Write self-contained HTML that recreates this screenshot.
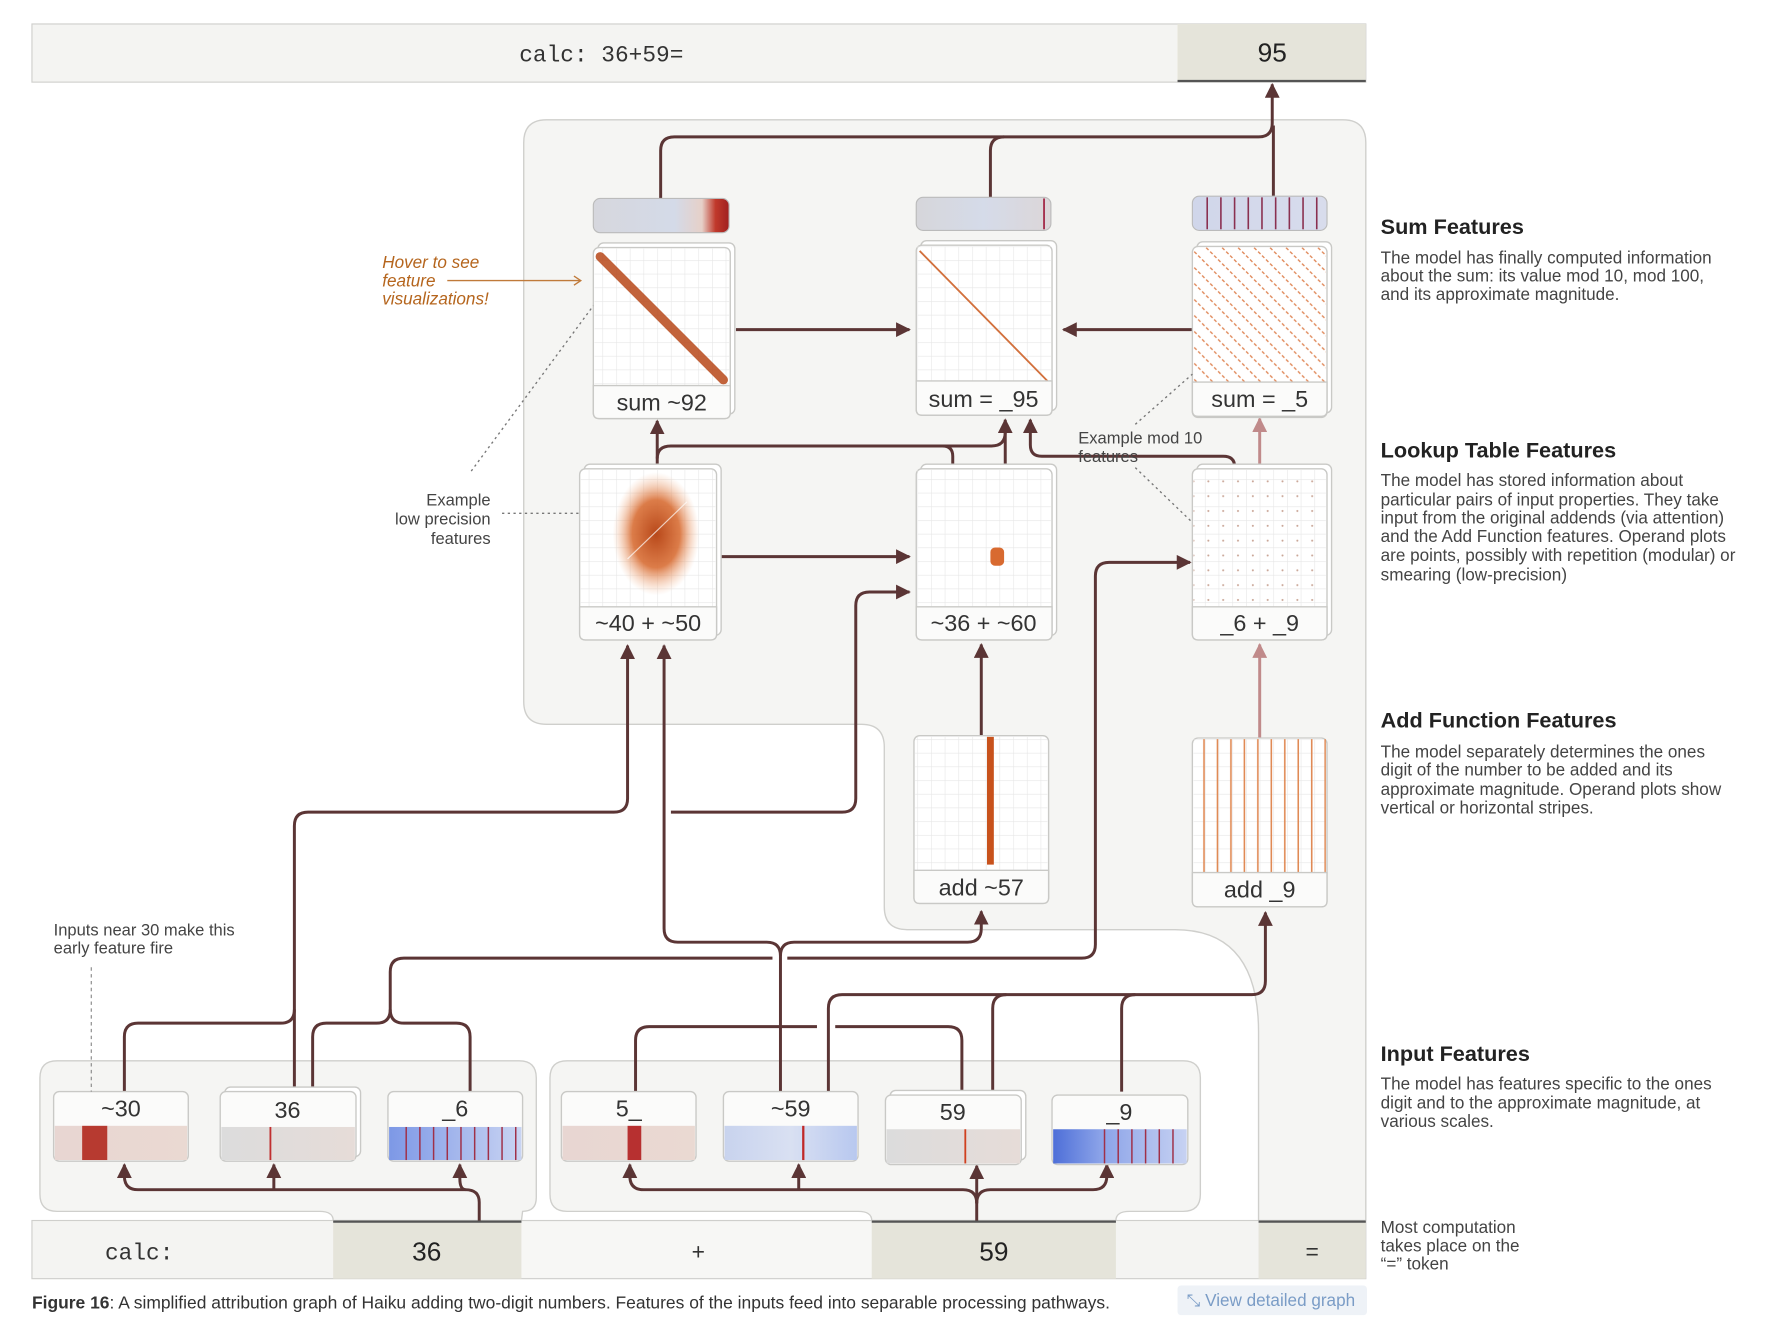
<!DOCTYPE html>
<html><head><meta charset="utf-8"><style>
html,body{margin:0;padding:0;background:#fff;}
svg{display:block;}
text{font-family:"Liberation Sans",sans-serif;}
.mono{font-family:"Liberation Mono",monospace;}
.e{fill:none;stroke:#5b3535;stroke-width:2.6;}
.ep{fill:none;stroke:#c08a8a;stroke-width:2.6;}
.card{fill:#fff;stroke:#c9c9c6;stroke-width:1.2;}
.lbl{fill:#fbfbfa;stroke:#c9c9c6;stroke-width:1.2;}
.t{font-size:20.5px;fill:#333;text-anchor:middle;}
.h{font-size:19px;font-weight:bold;fill:#222;}
.b{font-size:15px;fill:#444;}
.ann{font-size:14.5px;fill:#444;}
.dot{fill:none;stroke:#777;stroke-width:1.2;stroke-dasharray:2 3;}
</style></head><body>
<svg width="1780" height="1330" viewBox="0 0 1560 1166" preserveAspectRatio="none" xmlns="http://www.w3.org/2000/svg">
<defs>
<marker id="a" viewBox="0 0 10 10" refX="9" refY="5" markerWidth="5" markerHeight="5" orient="auto"><path d="M0 0L10 5L0 10z" fill="#5b3535"/></marker>
<marker id="ap" viewBox="0 0 10 10" refX="9" refY="5" markerWidth="5" markerHeight="5" orient="auto"><path d="M0 0L10 5L0 10z" fill="#c08a8a"/></marker>
<pattern id="g" width="12" height="12" patternUnits="userSpaceOnUse"><path d="M12 0H0V12" fill="none" stroke="#e6e6e6" stroke-width="1"/></pattern>
<pattern id="diag" width="14" height="14" patternUnits="userSpaceOnUse"><path d="M0 0L14 14M-7 7L7 21M7 -7L21 7" stroke="#e0895a" stroke-width="1.2" stroke-dasharray="3 2"/></pattern>
<pattern id="vs" width="11.8" height="10" patternUnits="userSpaceOnUse"><path d="M5 0V10" stroke="#e08a55" stroke-width="1.4"/></pattern>
<pattern id="dots" width="13" height="13" patternUnits="userSpaceOnUse"><circle cx="6" cy="6" r="0.9" fill="#c9a596"/></pattern>
<radialGradient id="blob" cx="0.5" cy="0.5" r="0.5"><stop offset="0" stop-color="#b8481a"/><stop offset="0.55" stop-color="#d86e35" stop-opacity="0.9"/><stop offset="1" stop-color="#f4b890" stop-opacity="0"/></radialGradient>
<linearGradient id="bar1" x1="0" x2="1"><stop offset="0" stop-color="#d6d7dd"/><stop offset="0.6" stop-color="#d4dae8"/><stop offset="0.8" stop-color="#e6d0c8"/><stop offset="0.9" stop-color="#c0392b"/><stop offset="1" stop-color="#a02020"/></linearGradient>
<linearGradient id="bar2" x1="0" x2="1"><stop offset="0" stop-color="#d6d6da"/><stop offset="0.5" stop-color="#d5dbe9"/><stop offset="1" stop-color="#dcd6d8"/></linearGradient>
<linearGradient id="bar3" x1="0" x2="1"><stop offset="0" stop-color="#d0d6ea"/><stop offset="1" stop-color="#d8dcec"/></linearGradient>
<linearGradient id="in1" x1="0" x2="1"><stop offset="0" stop-color="#e8d6d2"/><stop offset="1" stop-color="#ead9d2"/></linearGradient>
<linearGradient id="in2" x1="0" x2="1"><stop offset="0" stop-color="#dcdcdc"/><stop offset="1" stop-color="#e6dcd8"/></linearGradient>
<linearGradient id="in3" x1="0" x2="1"><stop offset="0" stop-color="#7d98e6"/><stop offset="1" stop-color="#c9d4f2"/></linearGradient>
<linearGradient id="in4" x1="0" x2="1"><stop offset="0" stop-color="#c8d3ee"/><stop offset="0.5" stop-color="#d9e0f2"/><stop offset="1" stop-color="#b8c8ef"/></linearGradient>
<linearGradient id="in5" x1="0" x2="1"><stop offset="0" stop-color="#4e6fd8"/><stop offset="0.35" stop-color="#8aa2e8"/><stop offset="1" stop-color="#c7d2f2"/></linearGradient>
</defs>

<rect x="28" y="21" width="1169" height="51" fill="#f4f4f2" stroke="#cfcfcc"/>
<rect x="1032" y="21" width="165" height="51" fill="#e5e4da"/>
<line x1="1032" y1="71" x2="1197" y2="71" stroke="#555" stroke-width="2"/>
<text x="527" y="54" class="mono" font-size="20" fill="#333" text-anchor="middle">calc: 36+59=</text>
<text x="1115" y="54" font-size="23" fill="#222" text-anchor="middle">95</text>

<path d="M479 105H1177Q1197 105 1197 125V1070H1103V905Q1103 815 1030 815H795Q775 815 775 795V655Q775 635 755 635H479Q459 635 459 615V125Q459 105 479 105Z" fill="#f5f5f3" stroke="#cfcfcc" stroke-width="1.2"/>

<path d="M50 930H455Q470 930 470 945V1050Q470 1062 458 1062Q457 1070 457 1070H292Q292 1062 280 1062H50Q35 1062 35 1047V945Q35 930 50 930Z" fill="#f5f5f3" stroke="#cfcfcc" stroke-width="1.2"/>
<path d="M497 930H1037Q1052 930 1052 945V1047Q1052 1062 1037 1062H990Q978 1062 978 1070H764Q764 1062 752 1062H497Q482 1062 482 1047V945Q482 930 497 930Z" fill="#f5f5f3" stroke="#cfcfcc" stroke-width="1.2"/>

<rect x="28" y="1070" width="1169" height="51" fill="#f4f4f2" stroke="#cfcfcc"/>
<rect x="292" y="1070" width="165" height="51" fill="#e5e4da"/>
<rect x="457" y="1071" width="307" height="49" fill="#f7f7f5"/>
<rect x="764" y="1070" width="214" height="51" fill="#e5e4da"/>
<rect x="1103" y="1070" width="94" height="51" fill="#e5e4da"/>
<line x1="292" y1="1071" x2="457" y2="1071" stroke="#555" stroke-width="2"/>
<line x1="764" y1="1071" x2="978" y2="1071" stroke="#555" stroke-width="2"/>
<line x1="1103" y1="1071" x2="1197" y2="1071" stroke="#555" stroke-width="2"/>
<text x="122" y="1104" class="mono" font-size="20" fill="#333" text-anchor="middle">calc:</text>
<text x="374" y="1105" font-size="23" fill="#222" text-anchor="middle">36</text>
<text x="612" y="1104" font-size="20" fill="#333" text-anchor="middle">+</text>
<text x="871" y="1105" font-size="23" fill="#222" text-anchor="middle">59</text>
<text x="1150" y="1104" font-size="20" fill="#333" text-anchor="middle">=</text>

<path class="e" d="M579 174V132Q579 120 591 120H1103Q1115 120 1115 108V74" marker-end="url(#a)"/>
<path class="e" d="M868 173V132Q868 120 880 120"/>
<path class="e" d="M1116 172V110"/>
<path class="e" d="M645 289H797" marker-end="url(#a)"/>
<path class="e" d="M1045 289H932" marker-end="url(#a)"/>
<path class="e" d="M576 410V369" marker-end="url(#a)"/>
<path class="e" d="M576 402Q576 391 588 391H869Q881 391 881 379"/>
<path class="e" d="M835 410V400Q835 391 826 391"/>
<path class="e" d="M881 410V368" marker-end="url(#a)"/>
<path class="e" d="M1082 410V409Q1082 400 1072 400H913Q903 400 903 390V368" marker-end="url(#a)"/>
<path class="ep" d="M1104 410V367" marker-end="url(#ap)"/>
<path class="e" d="M632 488H797" marker-end="url(#a)"/>
<path class="e" d="M258 957V724Q258 712 270 712H538Q550 712 550 700V566" marker-end="url(#a)"/>
<path class="e" d="M588 712H738Q750 712 750 700V531Q750 519 762 519H797" marker-end="url(#a)"/>
<path class="e" d="M684 957V838Q684 826 672 826H594Q582 826 582 814V566" marker-end="url(#a)"/>
<path class="e" d="M684 838Q684 826 696 826H848Q860 826 860 814V799" marker-end="url(#a)"/>
<path class="e" d="M860 645V565" marker-end="url(#a)"/>
<path class="e" d="M109 957V909Q109 897 121 897H246Q258 897 258 885"/>
<path class="e" d="M274 957V909Q274 897 286 897H330Q342 897 342 885V852Q342 840 354 840H677"/>
<path class="e" d="M412 957V909Q412 897 400 897H354Q342 897 342 885"/>
<path class="e" d="M690 840H948Q960 840 960 828V505Q960 493 972 493H1043" marker-end="url(#a)"/>
<path class="e" d="M557 957V912Q557 900 569 900H716"/>
<path class="e" d="M732 900H831Q843 900 843 912V957"/>
<path class="e" d="M726 957V884Q726 872 738 872H1097Q1109 872 1109 860V800" marker-end="url(#a)"/>
<path class="e" d="M870 957V884Q870 872 882 872"/>
<path class="e" d="M983 957V884Q983 872 995 872"/>
<path class="ep" d="M1104 647V565" marker-end="url(#ap)"/>
<path class="e" d="M420 1070V1054Q420 1043 408 1043H121Q109 1043 109 1031V1021" marker-end="url(#a)"/>
<path class="e" d="M240 1043Q240 1037 240 1021" marker-end="url(#a)"/>
<path class="e" d="M408 1043Q403 1043 403 1033V1021" marker-end="url(#a)"/>
<path class="e" d="M856 1070V1022" marker-end="url(#a)"/>
<path class="e" d="M856 1055Q856 1043 844 1043H564Q552 1043 552 1031V1021" marker-end="url(#a)"/>
<path class="e" d="M700 1043V1021" marker-end="url(#a)"/>
<path class="e" d="M856 1055Q856 1043 868 1043H958Q970 1043 970 1031V1021" marker-end="url(#a)"/>

<rect x="520" y="174" width="119" height="30" rx="6" fill="url(#bar1)" stroke="#bbb"/>
<rect x="803" y="173" width="118" height="29" rx="6" fill="url(#bar2)" stroke="#bbb"/>
<line x1="915" y1="174" x2="915" y2="201" stroke="#a02040" stroke-width="1.5"/>
<rect x="1045" y="172" width="118" height="30" rx="6" fill="url(#bar3)" stroke="#bbb"/>
<g stroke="#8a3050" stroke-width="1.4">
<line x1="1058" y1="173" x2="1058" y2="201"/><line x1="1070" y1="173" x2="1070" y2="201"/><line x1="1082" y1="173" x2="1082" y2="201"/><line x1="1094" y1="173" x2="1094" y2="201"/><line x1="1106" y1="173" x2="1106" y2="201"/><line x1="1118" y1="173" x2="1118" y2="201"/><line x1="1130" y1="173" x2="1130" y2="201"/><line x1="1142" y1="173" x2="1142" y2="201"/><line x1="1154" y1="173" x2="1154" y2="201"/></g>

<rect class="card" x="524" y="213" width="120" height="150" rx="5"/>
<rect class="card" x="520" y="217" width="120" height="150" rx="5"/>
<rect x="521" y="218" width="118" height="120" fill="url(#g)"/>
<path d="M526 225L634 333" stroke="#b8481a" stroke-width="8" stroke-linecap="round" opacity="0.85"/>
<path d="M520 338H640V362Q640 367 635 367H525Q520 367 520 362Z" class="lbl"/>
<text x="580" y="360" class="t">sum ~92</text>

<rect class="card" x="807" y="211" width="119" height="149" rx="5"/>
<rect class="card" x="803" y="215" width="119" height="149" rx="5"/>
<rect x="804" y="216" width="117" height="118" fill="url(#g)"/>
<path d="M806 220L918 334" stroke="#d2703c" stroke-width="1.6"/>
<path d="M803 334H922V359Q922 364 917 364H808Q803 364 803 359Z" class="lbl"/>
<text x="862" y="357" class="t">sum = _95</text>

<rect class="card" x="1049" y="212" width="118" height="150" rx="5"/>
<rect class="card" x="1045" y="216" width="118" height="150" rx="5"/>
<rect x="1046" y="217" width="116" height="118" fill="url(#diag)"/>
<path d="M1045 335H1163V360Q1163 365 1158 365H1050Q1045 365 1045 360Z" class="lbl"/>
<text x="1104" y="357" class="t">sum = _5</text>

<rect class="card" x="512" y="407" width="120" height="150" rx="5"/>
<rect class="card" x="508" y="411" width="120" height="150" rx="5"/>
<rect x="509" y="412" width="118" height="120" fill="url(#g)"/>
<ellipse cx="575" cy="468" rx="38" ry="54" fill="url(#blob)"/>
<line x1="550" y1="490" x2="602" y2="440" stroke="#fff" stroke-width="1" opacity="0.7"/>
<path d="M508 532H628V556Q628 561 623 561H513Q508 561 508 556Z" class="lbl"/>
<text x="568" y="553" class="t">~40 + ~50</text>

<rect class="card" x="807" y="407" width="119" height="150" rx="5"/>
<rect class="card" x="803" y="411" width="119" height="150" rx="5"/>
<rect x="804" y="412" width="117" height="120" fill="url(#g)"/>
<rect x="868" y="480" width="12" height="16" rx="4" fill="#d86a30"/>
<path d="M803 532H922V556Q922 561 917 561H808Q803 561 803 556Z" class="lbl"/>
<text x="862" y="553" class="t">~36 + ~60</text>

<rect class="card" x="1049" y="407" width="118" height="150" rx="5"/>
<rect class="card" x="1045" y="411" width="118" height="150" rx="5"/>
<rect x="1046" y="412" width="116" height="120" fill="url(#g)"/>
<rect x="1046" y="412" width="116" height="120" fill="url(#dots)"/>
<path d="M1045 532H1163V556Q1163 561 1158 561H1050Q1045 561 1045 556Z" class="lbl"/>
<text x="1104" y="553" class="t">_6 + _9</text>

<rect class="card" x="801" y="645" width="118" height="147" rx="5"/>
<rect x="802" y="646" width="116" height="117" fill="url(#g)"/>
<rect x="865" y="646" width="6" height="112" fill="#c8521c"/>
<path d="M801 763H919V787Q919 792 914 792H806Q801 792 801 787Z" class="lbl"/>
<text x="860" y="785" class="t">add ~57</text>

<rect class="card" x="1045" y="647" width="118" height="148" rx="5"/>
<rect x="1046" y="648" width="116" height="117" fill="url(#g)"/>
<rect x="1046" y="648" width="116" height="117" fill="url(#vs)"/>
<path d="M1045 765H1163V790Q1163 795 1158 795H1050Q1045 795 1045 790Z" class="lbl"/>
<text x="1104" y="787" class="t">add _9</text>

<g>
<rect class="lbl" x="47" y="957" width="118" height="61" rx="5"/>
<rect x="48" y="987" width="116" height="30" fill="url(#in1)"/>
<rect x="72" y="987" width="22" height="30" fill="#b73a30"/>
<text x="106" y="979" class="t">~30</text>

<rect class="card" x="197" y="953" width="119" height="61" rx="5"/>
<rect class="lbl" x="193" y="957" width="119" height="61" rx="5"/>
<rect x="194" y="988" width="117" height="29" fill="url(#in2)"/>
<line x1="237" y1="988" x2="237" y2="1017" stroke="#c03030" stroke-width="1.6"/>
<text x="252" y="980" class="t">36</text>

<rect class="lbl" x="340" y="957" width="118" height="61" rx="5"/>
<rect x="341" y="988" width="116" height="29" fill="url(#in3)"/>
<g stroke="#a03048" stroke-width="1.3"><line x1="356" y1="988" x2="356" y2="1017"/><line x1="368" y1="988" x2="368" y2="1017"/><line x1="380" y1="988" x2="380" y2="1017"/><line x1="392" y1="988" x2="392" y2="1017"/><line x1="404" y1="988" x2="404" y2="1017"/><line x1="416" y1="988" x2="416" y2="1017"/><line x1="428" y1="988" x2="428" y2="1017"/><line x1="440" y1="988" x2="440" y2="1017"/><line x1="452" y1="988" x2="452" y2="1017"/></g>
<text x="399" y="979" class="t">_6</text>

<rect class="lbl" x="492" y="957" width="118" height="61" rx="5"/>
<rect x="493" y="987" width="116" height="30" fill="url(#in1)"/>
<rect x="550" y="987" width="12" height="30" fill="#b73030"/>
<text x="551" y="979" class="t">5_</text>

<rect class="lbl" x="634" y="957" width="118" height="61" rx="5"/>
<rect x="635" y="987" width="116" height="30" fill="url(#in4)"/>
<line x1="704" y1="987" x2="704" y2="1017" stroke="#c02828" stroke-width="2"/>
<text x="693" y="979" class="t">~59</text>

<rect class="card" x="780" y="956" width="119" height="61" rx="5"/>
<rect class="lbl" x="776" y="960" width="119" height="61" rx="5"/>
<rect x="777" y="990" width="117" height="30" fill="url(#in2)"/>
<line x1="846" y1="990" x2="846" y2="1020" stroke="#d04020" stroke-width="1.6"/>
<text x="835" y="982" class="t">59</text>

<rect class="lbl" x="922" y="960" width="119" height="61" rx="5"/>
<rect x="923" y="990" width="117" height="30" fill="url(#in5)"/>
<g stroke="#a03048" stroke-width="1.3"><line x1="968" y1="990" x2="968" y2="1020"/><line x1="980" y1="990" x2="980" y2="1020"/><line x1="992" y1="990" x2="992" y2="1020"/><line x1="1004" y1="990" x2="1004" y2="1020"/><line x1="1016" y1="990" x2="1016" y2="1020"/><line x1="1028" y1="990" x2="1028" y2="1020"/></g>
<text x="981" y="982" class="t">_9</text>
</g>

<g font-style="italic" font-size="15" fill="#b5651d">
<text x="335" y="235">Hover to see</text>
<text x="335" y="251">feature</text>
<text x="335" y="267">visualizations!</text>
</g>
<path d="M392 246H508" stroke="#c07a3a" stroke-width="1.2" fill="none"/>
<path d="M503 242L509 246L503 250" stroke="#c07a3a" stroke-width="1.2" fill="none"/>
<path class="dot" d="M413 413L520 268"/>
<g class="ann" text-anchor="end"><text x="430" y="443">Example</text><text x="430" y="460">low precision</text><text x="430" y="477">features</text></g>
<path class="dot" d="M440 450H508"/>
<text x="945" y="389" class="ann">Example mod 10</text>
<text x="945" y="405" class="ann">features</text>
<path class="dot" d="M995 372L1045 328"/>
<path class="dot" d="M995 410L1045 458"/>
<text x="47" y="820" class="ann">Inputs near 30 make this</text>
<text x="47" y="836" class="ann">early feature fire</text>
<path d="M80 848V957" stroke="#888" stroke-width="1" stroke-dasharray="3 3"/>

<text x="1210" y="205" class="h">Sum Features</text>
<g class="b"><text x="1210" y="231">The model has finally computed information</text><text x="1210" y="247">about the sum: its value mod 10, mod 100,</text><text x="1210" y="263">and its approximate magnitude.</text></g>
<text x="1210" y="401" class="h">Lookup Table Features</text>
<g class="b"><text x="1210" y="426">The model has stored information about</text><text x="1210" y="443">particular pairs of input properties. They take</text><text x="1210" y="459">input from the original addends (via attention)</text><text x="1210" y="475">and the Add Function features. Operand plots</text><text x="1210" y="492">are points, possibly with repetition (modular) or</text><text x="1210" y="509">smearing (low-precision)</text></g>
<text x="1210" y="638" class="h">Add Function Features</text>
<g class="b"><text x="1210" y="664">The model separately determines the ones</text><text x="1210" y="680">digit of the number to be added and its</text><text x="1210" y="697">approximate magnitude. Operand plots show</text><text x="1210" y="713">vertical or horizontal stripes.</text></g>
<text x="1210" y="930" class="h">Input Features</text>
<g class="b"><text x="1210" y="955">The model has features specific to the ones</text><text x="1210" y="972">digit and to the approximate magnitude, at</text><text x="1210" y="988">various scales.</text></g>
<g class="b"><text x="1210" y="1081">Most computation</text><text x="1210" y="1097">takes place on the</text><text x="1210" y="1113">“=” token</text></g>

<text x="28" y="1147" font-size="15.3" fill="#333"><tspan font-weight="bold">Figure 16</tspan>: A simplified attribution graph of Haiku adding two-digit numbers. Features of the inputs feed into separable processing pathways.</text>
<rect x="1032" y="1127" width="166" height="26" rx="3" fill="#eef2f7"/>
<text x="1040" y="1145" font-size="15" fill="#7a9cc6">⤡ View detailed graph</text>
</svg>
</body></html>
